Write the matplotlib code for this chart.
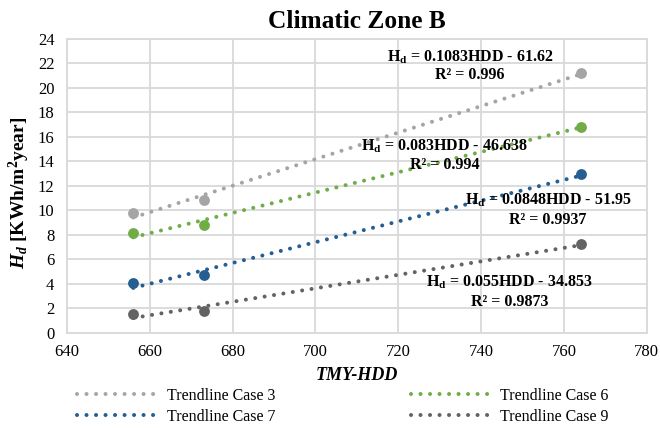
import numpy as np
import matplotlib
matplotlib.use("Agg")
import matplotlib.pyplot as plt

plt.rcParams['font.family'] = ['Liberation Serif', 'DejaVu Serif']
plt.rcParams['mathtext.fontset'] = 'custom'
plt.rcParams['mathtext.rm'] = 'Liberation Serif:bold'
plt.rcParams['mathtext.it'] = 'Liberation Serif:italic:bold'
plt.rcParams['mathtext.bf'] = 'Liberation Serif:bold'

# Data
hdd = [656, 673, 764]
case3 = [9.8, 10.85, 21.2]
case6 = [8.14, 8.82, 16.84]
case7 = [4.05, 4.73, 12.95]
case9 = [1.55, 1.8, 7.24]
slopes = [0.1083, 0.083, 0.0848, 0.055]
intercepts = [-61.62, -46.638, -51.95, -34.853]
labels = ["Trendline Case 3", "Trendline Case 6", "Trendline Case 7", "Trendline Case 9"]
eq_texts = ["0.1083HDD - 61.62", "0.083HDD - 46.638", "0.0848HDD - 51.95", "0.055HDD - 34.853"]
r2_texts = ["0.996", "0.994", "0.9937", "0.9873"]
colors = ["#A5A5A5", "#70AD47", "#255E91", "#636363"]
series = [case3, case6, case7, case9]
eq_pos = [(737.3, 22.5, 21.05), (731.2, 15.2, 13.7), (756.1, 10.8, 9.25), (746.9, 4.1, 2.55)]

fig = plt.figure(figsize=(6.6, 4.28), dpi=100)
ax = fig.add_axes([0.1015, 0.222, 0.8785, 0.687])

grid_c = "#D9D9D9"
xs = np.linspace(min(hdd), max(hdd), 50)
handles = []
for vals, m, b, c, lab in zip(series, slopes, intercepts, colors, labels):
    ax.plot(hdd, vals, 'o', color=c, markersize=7.8, zorder=4, markeredgewidth=0)
    h, = ax.plot(xs, m * xs + b, color=c, lw=2.9, linestyle=(0, (0.01, 2.35)),
                 dash_capstyle='round', zorder=3, label=lab)
    handles.append(h)

for (x, y1, y2), eq, r in zip(eq_pos, eq_texts, r2_texts):
    ax.text(x, y1, r"$\mathrm{H_d}$ = " + eq, ha='center', va='center',
            fontsize=11.5, fontweight='bold', zorder=5)
    ax.text(x, y2, "R² = " + r, ha='center', va='center',
            fontsize=11.5, fontweight='bold', zorder=5)

ax.set_xlim(640, 780)
ax.set_ylim(0, 24)
ax.set_xticks(np.arange(640, 781, 20))
ax.set_yticks(np.arange(0, 25, 2))
ax.grid(True, color=grid_c, lw=1.3, zorder=0)
ax.set_axisbelow(True)
for s in ax.spines.values():
    s.set_color(grid_c)
    s.set_linewidth(1.3)
ax.tick_params(length=0, labelsize=12)
ax.tick_params(axis='y', pad=9)
ax.tick_params(axis='x', pad=8)

ax.set_title("Climatic Zone B", fontsize=18.3, fontweight='bold', pad=8)
ax.set_xlabel("TMY-HDD", fontsize=13, fontweight='bold', style='italic', labelpad=5)
ax.set_ylabel(r"$H_d$ [KWh/m$^\mathrm{2}$year]", fontsize=14, fontweight='bold')
ax.yaxis.set_label_coords(-0.06, 0.476)

order = [0, 2, 1, 3]
fig.legend(handles=[handles[i] for i in order], loc='lower left',
           bbox_to_anchor=(0.105, -0.011), ncol=2, borderpad=0,
           frameon=False, fontsize=11.5, handlelength=5.0, columnspacing=8.5,
           handletextpad=0.6, labelspacing=0.31)

fig.savefig("out.png", dpi=100)
